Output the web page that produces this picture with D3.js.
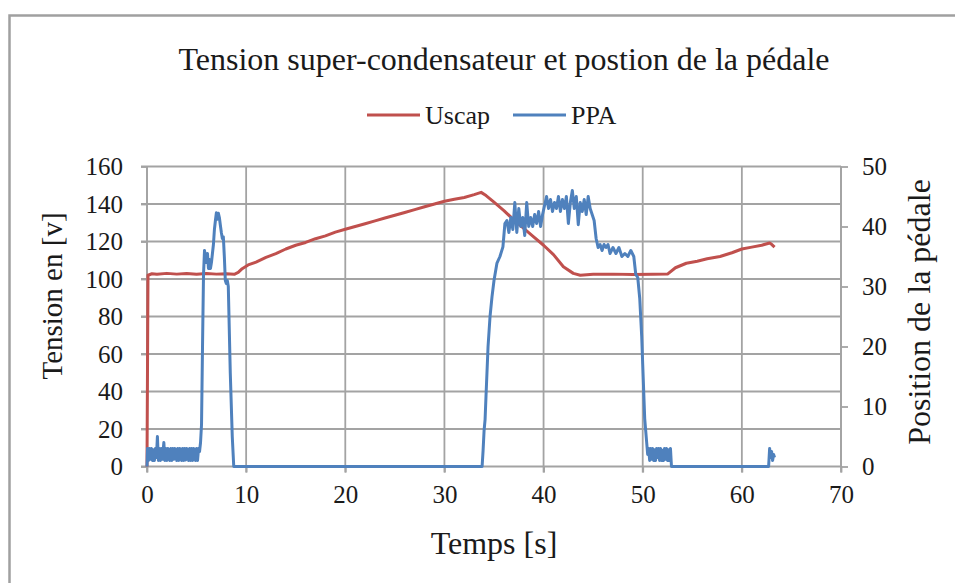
<!DOCTYPE html>
<html><head><meta charset="utf-8">
<script src="https://cdn.jsdelivr.net/npm/d3@7/dist/d3.min.js"></script>
<style>body{margin:0;background:#fff}svg{display:block}text{font-family:"Liberation Serif","Times New Roman",serif;fill:#1a1a1a}</style>
</head><body>
<svg id="c" width="955" height="583"></svg>
<script>
const title = "Tension super-condensateur et postion de la pédale";
const xTicks = [0,10,20,30,40,50,60,70];
const yLeftTicks = [0,20,40,60,80,100,120,140,160];
const yRightTicks = [0,10,20,30,40,50];
const seriesNames = ["Uscap","PPA"];

const uscapT = [0,0.1,0.5,1,2,3,4,5,6,7,8,8.8,9.2,9.6,10.2,11,12,13,14,15,16,17,18,19,20,21,22,23,24,25,26,27,28,29,30,31,32,33,33.7,34.2,35,36,37,38,39,40,41,42,43,43.7,45,47,49,51,52.5,53.3,54.4,55.5,56.5,57.8,59,60,61,62,62.8,63.0,63.3];
const uscapV = [0,102,102.8,102.5,103,102.6,102.9,102.5,102.9,102.6,102.8,102.5,103.5,105.5,107.5,109,111.5,113.5,116,118,119.5,121.5,123,125,126.5,128,129.5,131,132.5,134,135.5,137,138.5,140,141.5,142.5,143.5,145,146.2,144.5,141,136.5,131.5,127,122.5,118,113,106.5,103,102,102.5,102.6,102.4,102.5,102.6,106,108.4,109.5,110.8,112,114,116,117,118,119.2,118.5,117];

const ppaT = [0,0.05,0.15,0.25,0.35,0.45,0.55,0.65,0.75,0.85,0.95,1.05,1.15,1.25,1.35,1.45,1.55,1.7,1.8,1.9,2.0,2.1,2.2,2.3,2.4,2.5,2.6,2.7,2.8,2.9,3.0,3.1,3.2,3.3,3.4,3.5,3.6,3.7,3.8,3.9,4.0,4.1,4.2,4.3,4.4,4.5,4.6,4.7,4.8,4.9,5.0,5.1,5.2,5.3,
 5.4,5.5,5.6,5.7,5.8,5.9,6.0,6.1,6.2,6.3,6.4,6.5,6.6,6.7,6.8,6.9,7.0,7.1,7.2,7.3,7.4,7.5,7.6,7.7,7.8,7.9,8.0,8.1,8.2,8.4,8.6,8.75,
 33.8,33.9,34.0,34.1,34.2,34.4,34.6,34.8,35.0,35.3,35.6,35.9,36.1,36.3,36.5,36.7,36.9,37.1,37.3,37.5,37.7,37.9,38.1,38.3,38.5,38.7,38.9,39.1,39.3,39.5,39.7,39.9,40.1,40.3,40.5,40.7,40.9,41.1,41.3,41.5,41.7,41.9,42.1,42.3,42.5,42.7,42.9,43.1,43.3,43.5,43.7,43.9,44.1,44.3,44.5,44.7,44.9,45.1,45.3,45.5,45.7,45.9,46.1,46.3,46.5,46.7,47.0,47.3,47.6,47.9,48.2,48.5,48.8,49.1,49.3,49.5,49.7,49.9,50.0,50.2,50.4,
 50.5,50.6,50.7,50.8,50.9,51.0,51.1,51.2,51.3,51.4,51.5,51.6,51.7,51.8,51.9,52.0,52.1,52.2,52.3,52.4,52.5,52.6,52.7,52.8,52.9,
 62.7,62.8,62.9,63.0,63.1,63.2,63.3];
const ppaV = [0,3,1,3,1.2,3,1,2.8,1,3,1.5,5,1,3,1,3,1.2,4,1,3,1,3,2.5,1,3,1,3,1.2,3,2.8,1,3,1,3,2.9,1,3,1,3,1.1,3,2.7,1,3,1,3,1,3,2.8,1,3,1,3,2.5,
 4,7,20,32,36,35,34,35.5,33,34.5,33,34,35.5,37,39.5,41,42.3,41.2,42.2,41.5,40.2,39,38,38.3,35,31,30.5,31,30,15.6,5,0,
 0,2.7,6,7.8,12,20,25,28.3,31,33.9,35,36.6,40.5,41,39,41.5,39.5,44,39,43,40,41.5,38.5,44,40,41.5,40,42,40.5,42.5,40,42,43.5,45,43,44.5,42.5,44,43,45,42.5,44.5,43,45,40.5,44,46,43,45,40.3,44,42.5,44.5,42,45,43,42,41,38,36.5,37,36,37,36.5,37,35.5,36.5,35.5,36.5,35,35.5,35,36,35,32,31.5,28,21.6,17,8,4,
 2,3,1,3,1.2,3,1,2.8,1,3,1.5,3,1,3,1,2.7,1,3,1.2,3,1,2.8,1,3,0,
 0,3,1.5,2.5,1,2,1.5];

const svg = d3.select("#c");
const plot = {l:147, r:841, t:166.5, b:466.5};
const font = '"Liberation Serif","Times New Roman",serif';

svg.append("rect").attr("x",9.5).attr("y",15.5).attr("width",1200).attr("height",1200)
  .attr("fill","none").attr("stroke","#a0a0a0").attr("stroke-width",2.5);

const x = d3.scaleLinear().domain([0,70]).range([plot.l, plot.r]);
const yL = d3.scaleLinear().domain([0,160]).range([plot.b, plot.t]);
const yR = d3.scaleLinear().domain([0,50]).range([plot.b, plot.t]);

const gridColor = "#a3a3a3";
svg.append("g").selectAll("line").data(yLeftTicks).join("line")
  .attr("x1", plot.l-6).attr("x2", plot.r).attr("y1", d=>yL(d)).attr("y2", d=>yL(d))
  .attr("stroke", gridColor).attr("stroke-width", 1.8);
svg.append("g").selectAll("line").data(xTicks).join("line")
  .attr("x1", d=>x(d)).attr("x2", d=>x(d)).attr("y1", plot.t).attr("y2", plot.b+6)
  .attr("stroke", gridColor).attr("stroke-width", 1.8);

const axL = svg.append("g").attr("transform",`translate(${plot.l},0)`)
  .call(d3.axisLeft(yL).tickValues(yLeftTicks).tickSize(6).tickPadding(18));
const axR = svg.append("g").attr("transform",`translate(${plot.r},0)`)
  .call(d3.axisRight(yR).tickValues(yRightTicks).tickSize(7).tickPadding(14));
const axB = svg.append("g").attr("transform",`translate(0,${plot.b})`)
  .call(d3.axisBottom(x).tickValues(xTicks).tickSize(6).tickPadding(13));
[axL,axR,axB].forEach(a=>{
  a.selectAll("line").attr("stroke",gridColor).attr("stroke-width",1.8);
  a.selectAll("text").attr("font-family",font).attr("font-size",25).attr("fill","#1a1a1a");
  a.select(".domain").remove();
});
svg.append("line").attr("x1",plot.l).attr("x2",plot.l).attr("y1",plot.t).attr("y2",plot.b).attr("stroke",gridColor).attr("stroke-width",1.8);
svg.append("line").attr("x1",plot.r).attr("x2",plot.r).attr("y1",plot.t).attr("y2",plot.b).attr("stroke",gridColor).attr("stroke-width",1.8);

const red = "#c0504d", blue = "#4f81bd";
const uscap = uscapT.map((t,i)=>[t,uscapV[i]]);
const ppa = ppaT.map((t,i)=>[t,ppaV[i]]);
svg.append("path").datum(uscap).attr("fill","none").attr("stroke",red).attr("stroke-width",3)
  .attr("stroke-linejoin","round")
  .attr("d", d3.line().x(d=>x(d[0])).y(d=>yL(d[1])));
svg.append("path").datum(ppa).attr("fill","none").attr("stroke",blue).attr("stroke-width",3)
  .attr("stroke-linejoin","round")
  .attr("d", d3.line().x(d=>x(d[0])).y(d=>yR(d[1])));

svg.append("text").attr("x",504).attr("y",70).attr("text-anchor","middle")
  .attr("font-size",32).text(title);
const leg = [{name:seriesNames[0],c:red,x:367},{name:seriesNames[1],c:blue,x:513}];
leg.forEach(l=>{
  svg.append("line").attr("x1",l.x).attr("x2",l.x+53).attr("y1",115).attr("y2",115).attr("stroke",l.c).attr("stroke-width",3);
  svg.append("text").attr("x",l.x+58).attr("y",124).attr("font-size",26).text(l.name);
});
svg.append("text").attr("transform","translate(62,296) rotate(-90)").attr("text-anchor","middle")
  .attr("font-size",29).text("Tension en [v]");
svg.append("text").attr("transform","translate(930,312) rotate(-90)").attr("text-anchor","middle")
  .attr("font-size",32).text("Position de la pédale");
svg.append("text").attr("x",494).attr("y",554).attr("text-anchor","middle")
  .attr("font-size",32).text("Temps [s]");
</script>
</body></html>
